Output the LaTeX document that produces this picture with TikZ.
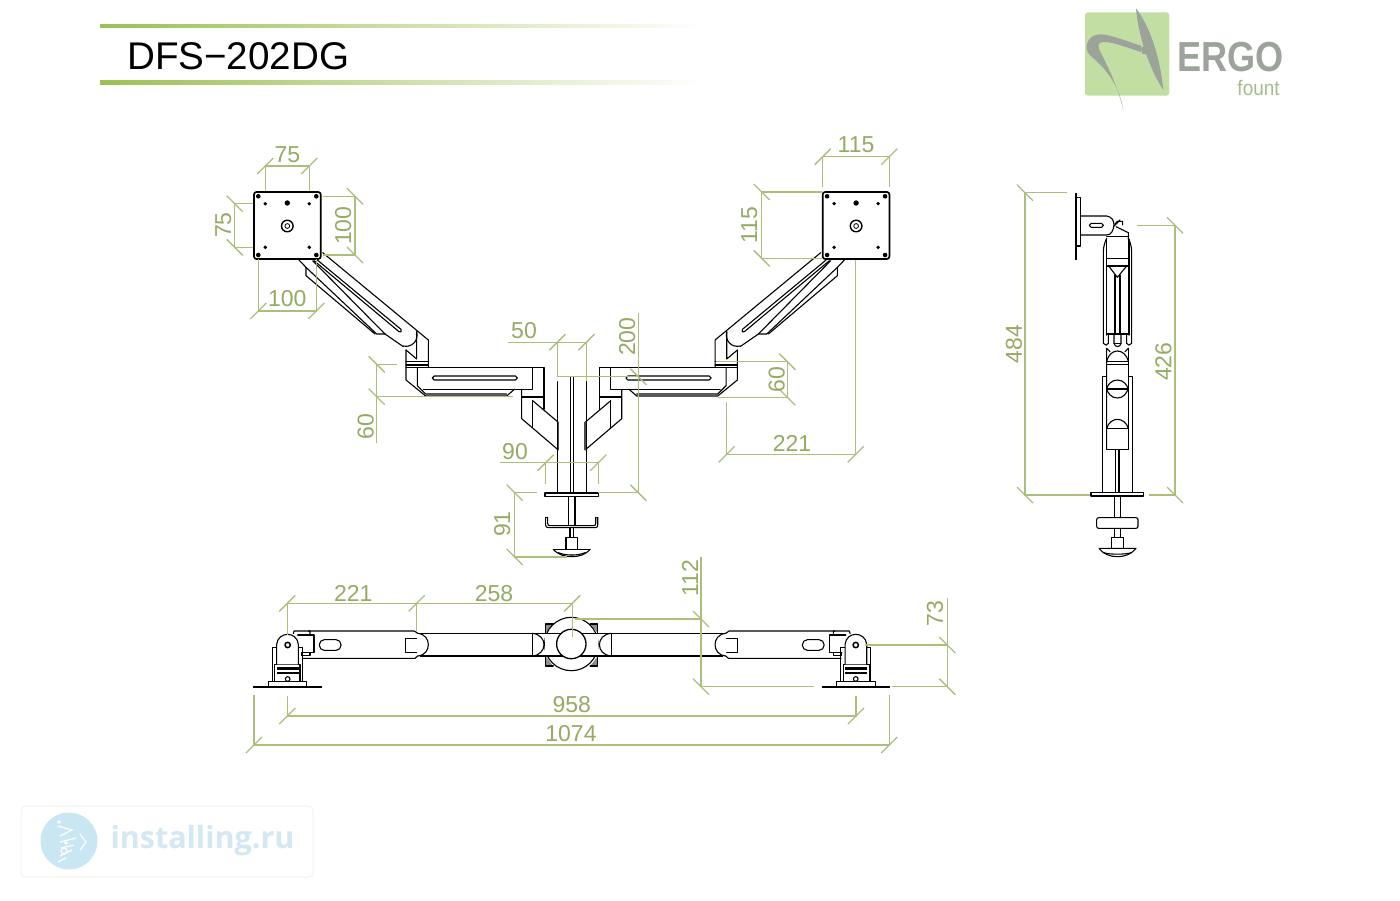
\documentclass[tikz,border=0pt]{standalone}
\usepackage{fontspec}
\setmainfont{Liberation Sans}
\newfontfamily\wmfont{Open Sans}
\definecolor{dimgreen}{HTML}{ABBE7C}
\definecolor{dimtxt}{HTML}{93AB62}
\definecolor{barg}{HTML}{9DBF55}
\definecolor{logog}{HTML}{C3DEA2}
\definecolor{logogrey}{HTML}{9CA39A}
\definecolor{wmblue}{HTML}{D3E8F2}
\definecolor{wmcirc}{HTML}{C9E6F3}
\tikzset{
  dimline/.style={draw=dimgreen,line width=1.3pt},
  dimtext/.style={text=dimtxt,font=\fontsize{23}{23}\selectfont,inner sep=0pt},
  part/.style={draw=black,line width=1.1pt,line join=round,line cap=round},
  heavy/.style={draw=black,line width=1.7pt,line join=round},
  z1/.style={shift={(200,130)},scale=0.33333},
  z2/.style={shift={(480,300)},scale=0.33333},
  z3/.style={shift={(1010,180)},scale=0.33333},
  z5/.style={shift={(240,570)},scale=0.33333},
  z10/.style={shift={(530,610)},scale=0.33333},
  z11/.style={shift={(395,320)},scale=0.33333},
  z12/.style={shift={(250,625)},scale=0.33333},
  z7/.style={shift={(1070,0)},scale=0.33333},
  mirror/.style={shift={(1143.4,0)},xscale=-1},
}
\newcommand\tka[2]{\draw[dimline] (#1-8,#2+8) -- (#1+8,#2-8);}
\newcommand\tkb[2]{\draw[dimline] (#1-8,#2-8) -- (#1+8,#2+8);}
\newcommand\dimlab[4][0]{\node[dimtext,rotate=#1] (#2) at (#3) {#4};}
% one half of the front view
\newcommand\frontarm{%
  \draw[heavy,rounded corners=2.5pt] (254,192) rectangle (320.7,259);
  \foreach \hx/\hy in {258.3/196.3,316.3/196.3,258.3/255,316.3/255}{\fill (\hx,\hy) circle (2.3);}
  \foreach \hx/\hy in {265.3/203.7,309.3/203.7,265.3/247.3,309.3/247.3}{\fill (\hx,\hy) circle (1.9);}
  \fill (287.3,203) circle (2.7);
  \draw[part,line width=1.4pt] (287.3,226) circle (5.8);
  \draw[part,line width=0.8pt] (287.3,226) circle (2.4);
  \begin{scope}[z1]
    \draw[part] (368,368) -- (685,630) -- (685,712);
    \draw[part] (338,392) -- (555,612) -- (610,650);
    \draw[part] (297,390) -- (318,412) -- (530,612) -- (555,612);
    \draw[part] (318,412) -- (318,437) -- (525,612);
    \draw[part] (352,390) -- (603,598) .. controls (607,604) and (602,609) .. (597,605) -- (342,392);
  \end{scope}
  \begin{scope}[z11]
    \draw[part] (33,142) -- (447,142) -- (447,268);
    \draw[part] (33,90) -- (33,180) -- (92,228) -- (335,228) -- (358,208);
    \draw[part] (67,142) -- (67,197) -- (92,222) -- (335,222);
    \draw[part] (85,208) -- (413,208) -- (413,142);
    \draw[part] (380,208) -- (380,296) -- (490,390);
    \draw[heavy] (380,230) -- (447,230);
    \draw[part] (413,242) -- (413,323);
    \draw[part] (413,242) -- (490,307);
    \draw[heavy,line width=2pt,black!70] (490,307) -- (490,390);
    \draw[part,rounded corners=1.9pt] (112,168) rectangle (367,180);
    \draw[part] (33,125) -- (100,125);
    \draw[part] (65,35) -- (65,117) -- (33,90);
    \draw[part] (25,78) .. controls (50,84) and (72,62) .. (65,35);
    \draw[part] (33,135) -- (100,135);
  \end{scope}
  \begin{scope}[z2]
    \draw[part] (232,245) -- (232,578);
  \end{scope}
  \begin{scope}[z2]
    \draw[part] (197,652) -- (197,675) .. controls (197,680) and (199,683) .. (205,683) -- (275,683);
    \draw[part] (203,652) -- (203,670) .. controls (203,675) and (205,677) .. (210,677) -- (275,677);
    \draw[part] (197,652) -- (203,652);
    \draw[part] (265,590) -- (265,677);
    \draw[part] (270,683) -- (270,712);
    \draw[part] (258,748) -- (258,712) -- (275,712);
    \draw[part] (220,748) -- (275,748);
    \draw[part] (220,748) .. controls (235,765) and (255,770) .. (275,770);
    \draw[part] (235,758) .. controls (250,764) and (262,765) .. (275,765);
  \end{scope}
}
% one half of the plan view
\newcommand\planarm{%
  \begin{scope}[z12]
    \draw[heavy] (10,185) -- (215,185);
    \draw[part] (55,185) -- (55,170) -- (170,170) -- (170,185);
    \draw[part] (68,170) -- (68,68) -- (80,68);
    \draw[part] (158,170) -- (158,68) -- (145,68);
    \draw[part] (73,170) -- (73,118) -- (150,118) -- (150,170);
    \fill (80,125) rectangle (146,135);
    \fill (80,140) rectangle (146,148);
    \draw[part] (113,162) circle (7);
    \draw[part,fill=white] (80,118) -- (80,58) .. controls (82,38) and (98,28) .. (113,28) .. controls (128,28) and (143,38) .. (145,58) -- (145,118);
    \draw[part,line width=1.5pt] (113,60) circle (8);
    \draw[part] (130,26) -- (132,18) -- (180,18) -- (180,30);
    \draw[part] (143,30) -- (192,30) -- (192,83) -- (155,83);
    \draw[part] (155,83) -- (155,92) -- (180,92) -- (180,83);
  \end{scope}
  \begin{scope}[z5]
    \draw[part] (205,183) -- (523,183) -- (533,190);
    \draw[part] (187,265) -- (525,265) -- (533,258);
    \draw[part,rounded corners=5pt] (238,209) rectangle (303,241);
    \draw[part] (530,205) -- (497,205) -- (497,248) -- (530,248);
    \draw[part] (533,190) .. controls (555,192) and (565,208) .. (565,224) .. controls (565,240) and (555,256) .. (533,258);
    \draw[heavy,line width=1.3pt] (533,190) -- (880,190);
    \draw[heavy,line width=1.3pt] (540,258) -- (880,258);
  \end{scope}
}
% one half of the plan-view centre
\newcommand\plancentre{%
  \begin{scope}[z10]
    \fill[black!45] (47,42) rectangle (70,70);
    \fill[white] (47,70) -- (70,42) -- (70,70) -- cycle;
    \draw[part] (47,70) -- (47,42) -- (70,42);
    \fill[black!45] (47,138) rectangle (70,168);
    \fill[white] (47,138) -- (70,168) -- (70,138) -- cycle;
    \draw[part] (47,138) -- (47,168) -- (70,168);
    \draw[part] (7,70) -- (7,138);
    \draw[part] (7,70) .. controls (30,72) and (42,88) .. (42,104) .. controls (42,120) and (30,136) .. (7,138);
  \end{scope}
}
\begin{document}
\begin{tikzpicture}[x=1pt,y=-1pt]
\useasboundingbox (0,0) rectangle (1400,900);
\fill[white] (0,0) rectangle (1400,900);
%%% heading
\shade[left color=barg,right color=white] (100,24.4) rectangle (705,27.8);
\shade[left color=barg,right color=white] (100,80.6) rectangle (705,84);
\node[anchor=west,inner sep=0pt,font=\fontsize{38.6}{38}\selectfont] (title) at (127,56) {DFS−202DG};
%%% logo
\fill[logog,rounded corners=3pt] (1085,12.3) rectangle (1169.3,95.7);
\begin{scope}[z7]
  \fill[logogrey] (198,25) .. controls (240,80) and (270,170) .. (280,270) .. controls (240,210) and (205,110) .. (198,25) -- cycle;
  \fill[logogrey] (160,330) .. controls (150,270) and (120,215) .. (62,168) .. controls (42,148) and (48,120) .. (70,108) .. controls (95,95) and (125,108) .. (215,138) -- (212,156) .. controls (150,135) and (105,118) .. (88,130) .. controls (72,142) and (128,200) .. (160,330) -- cycle;
  \fill[logogrey] (212,146) -- (228,132) -- (238,162) -- (218,162) -- cycle;
\end{scope}
\node[inner sep=0pt,text=logogrey,font=\fontsize{42}{42}\selectfont\bfseries] (ergo) at (1230.5,57) {\scalebox{0.86}[1]{ERGO}};
\node[inner sep=0pt,text=logog!85!black,font=\fontsize{21}{21}\selectfont] (fount) at (1258.5,88) {\scalebox{0.9}[1]{fount}};
%%% watermark
\draw[draw=black!5,line width=1pt,rounded corners=4pt] (21,806) rectangle (313,877);
\fill[wmcirc] (69,841) circle (28.5);
\begin{scope}[white,line width=1.2pt]
  \draw (58,826) -- (72,830) -- (60,836) ;
  \draw (60,842) -- (76,838);
  \draw (80,834) -- (86,842) -- (80,850);
  \draw (61,848) -- (74,845) (72,850) -- (60,856) (66,858) -- (58,862);
  \fill (59,822) circle (1.8) (66,843) circle (1.8);
  \draw (64,851) circle (3);
\end{scope}
\node[inner sep=0pt,text=wmblue,font=\wmfont\bfseries\fontsize{30.5}{30}\selectfont] (wm) at (202.5,841) {installing.ru};
%%% front view, arms
\frontarm
\begin{scope}[mirror]\frontarm\end{scope}
\begin{scope}[z2]
  \draw[part] (272,232) -- (272,578);
  \draw[part] (280,232) -- (280,578);
  \draw[part] (232,230) -- (256,230);
  \draw[part,fill=white] (195,579) rectangle (355,590);
  \draw[part] (285,590) -- (285,677);
\end{scope}
%%% side view
\begin{scope}[z3]
  \draw[heavy] (197,40) -- (197,240);
  \draw[part] (197,52) -- (212,52) -- (212,198) -- (197,198);
  \draw[part] (212,108) -- (290,108) .. controls (305,110) and (312,122) .. (312,135) .. controls (310,150) and (305,165) .. (290,165) -- (212,165);
  \draw[part,rounded corners=1.9pt] (238,130) rectangle (280,142);
  \draw[part] (315,132) -- (322,124) -- (338,124) -- (338,135);
  \draw[part] (312,138) -- (330,120) (318,140) -- (355,158) -- (355,180);
  \draw[part] (290,170) -- (355,170);
  \draw[part] (280,490) -- (280,215) .. controls (280,200) and (285,185) .. (290,175);
  \draw[part] (365,490) -- (365,215) .. controls (365,200) and (360,185) .. (355,175);
  \draw[part] (290,178) -- (290,465) (357,178) -- (357,465);
  \draw[part,line width=1.5pt] (290,236) -- (357,236);
  \draw[part] (290,258) -- (357,258);
  \draw[part] (296,258) -- (322,292) -- (350,258);
  \draw[part] (315,285) -- (315,462) (330,285) -- (330,462);
  \draw[part] (290,462) -- (357,462);
  \draw[part] (280,490) .. controls (285,497) and (292,497) .. (295,490) -- (295,465);
  \draw[part] (365,490) .. controls (360,497) and (353,497) .. (350,490) -- (350,465);
  \draw[part] (312,465) -- (312,490) .. controls (314,503) and (331,503) .. (333,490) -- (333,465);
  \draw[part] (312,490) -- (333,490);
  \draw[part] (290,808) -- (290,505) -- (300,515) (355,505) -- (345,515);
  \draw[part] (355,808) -- (355,505);
  \draw[part] (290,808) -- (355,808);
  \draw[part] (290,545) .. controls (295,522) and (310,513) .. (322,513) .. controls (335,513) and (350,522) .. (355,545);
  \draw[part] (290,545) -- (355,545) (290,553) -- (355,553);
  \draw[part] (290,590) -- (277,590) -- (277,938);
  \draw[part] (355,590) -- (367,590) -- (367,938);
  \draw[part] (322,600) .. controls (340,600) and (352,615) .. (354,627) .. controls (350,640) and (340,654) .. (322,654) .. controls (304,654) and (294,640) .. (290,627) .. controls (292,615) and (304,600) .. (322,600) -- cycle;
  \draw[part] (290,627) -- (354,627);
  \draw[part] (290,745) .. controls (295,727) and (310,718) .. (322,718) .. controls (335,718) and (350,727) .. (355,745);
  \draw[part] (290,745) -- (355,745);
  \draw[part] (317,808) -- (317,938) (327,808) -- (327,938);
  \draw[part] (243,938) rectangle (401,948);
  \draw[part] (313,948) -- (313,1013) (332,948) -- (332,1013);
  \draw[part,rounded corners=2pt] (260,1013) rectangle (384,1045);
  \draw[part] (313,1045) -- (313,1072) (332,1045) -- (332,1072);
  \draw[part] (305,1105) -- (305,1072) -- (340,1072) -- (340,1105);
  \draw[part] (267,1105) -- (378,1105) .. controls (365,1122) and (345,1130) .. (322,1130) .. controls (300,1130) and (280,1122) .. (267,1105) -- cycle;
  \draw[part] (280,1118) .. controls (300,1124) and (345,1124) .. (365,1118);
\end{scope}
%%% plan view
\planarm
\begin{scope}[mirror]\planarm\end{scope}
\plancentre
\begin{scope}[mirror]\plancentre\end{scope}
\draw[part] (571.3,644) circle (26.7);
\fill[white] (545,634) rectangle (598,655);
\begin{scope}[z10]
  \draw[heavy,line width=1.3pt] (0,70) -- (247,70);
  \draw[heavy,line width=1.3pt] (0,138) -- (247,138);
\end{scope}
\draw[part,line width=1.3pt,fill=white] (571.3,644) circle (14.7);
%%% dimensions, front view
\draw[dimline] (265.3,191) -- (265.3,166) -- (309.3,166) -- (309.3,191);
\tka{265.3}{166}\tka{309.3}{166}
\dimlab{d75a}{287.3,155}{75}
\draw[dimline] (253,203.7) -- (234.7,203.7) -- (234.7,247.3) -- (253,247.3);
\tkb{234.7}{203.7}\tkb{234.7}{247.3}
\dimlab[90]{d75b}{223.3,225}{75}
\draw[dimline] (323,196.3) -- (355,196.3) -- (355,255) -- (323,255);
\tkb{355}{196.3}\tkb{355}{255}
\dimlab[90]{d100a}{343.3,225.7}{100}
\draw[dimline] (258.3,259) -- (258.3,311) -- (316.3,311) -- (316.3,259);
\tka{258.3}{311}\tka{316.3}{311}
\dimlab{d100b}{287.3,299}{100}
\draw[dimline] (822.7,187) -- (822.7,156.7) -- (889.3,156.7) -- (889.3,187);
\tka{822.7}{156.7}\tka{889.3}{156.7}
\dimlab{d115a}{856,145}{115}
\draw[dimline] (822,192) -- (761.7,192) -- (761.7,258.3) -- (822,258.3);
\tkb{761.7}{192}\tkb{761.7}{258.3}
\dimlab[90]{d115b}{749.3,225}{115}
\draw[dimline] (855.7,260) -- (855.7,454.3) -- (726.7,454.3) -- (726.7,401.7);
\tka{855.7}{454.3}\tka{726.7}{454.3}
\dimlab{d221a}{792,443}{221}
\draw[dimline] (716,361.7) -- (787.3,361.7) -- (787.3,397.3) -- (718,397.3);
\tkb{787.3}{361.7}\tkb{787.3}{397.3}
\dimlab[90]{d60a}{776.7,379.3}{60}
\draw[dimline] (397,364.3) -- (376.7,364.3) -- (376.7,442.7);
\draw[dimline] (376.7,396.7) -- (513,396.7);
\tkb{376.7}{364.3}\tkb{376.7}{396.7}
\dimlab[90]{d60b}{365.7,426.7}{60}
\draw[dimline] (508.3,342.3) -- (586.7,342.3);
\draw[dimline] (557.3,342.3) -- (557.3,376.7);
\draw[dimline] (586.3,342.3) -- (586.3,381);
\tka{557.3}{342.3}\tka{586.3}{342.3}
\dimlab{d50}{524,330.7}{50}
\draw[dimline] (638.3,313.3) -- (638.3,492.7) -- (598,492.7);
\draw[dimline] (557.3,376.7) -- (638.3,376.7);
\tkb{638.3}{376.7}\tkb{638.3}{492.7}
\dimlab[90]{d200}{627.3,336.7}{200}
\draw[dimline] (545.7,484.3) -- (545.7,462.7);
\draw[dimline] (598.3,484.3) -- (598.3,462.7);
\draw[dimline] (500,462.7) -- (598.3,462.7);
\tka{545.7}{462.7}\tka{598.3}{462.7}
\dimlab{d90}{515,451.7}{90}
\draw[dimline] (536.7,492.7) -- (514.7,492.7) -- (514.7,557) -- (566.7,557);
\tkb{514.7}{492.7}\tkb{514.7}{557}
\dimlab[90]{d91}{502.3,524}{91}
%%% dimensions, side view
\draw[dimline] (1067.3,192.7) -- (1025,192.7) -- (1025,495) -- (1090,495);
\tkb{1025}{192.7}\tkb{1025}{495}
\dimlab[90]{d484}{1014,344}{484}
\draw[dimline] (1136.7,225.3) -- (1175,225.3) -- (1175,495) -- (1149,495);
\tkb{1175}{225.3}\tkb{1175}{495}
\dimlab[90]{d426}{1163.5,361.7}{426}
%%% dimensions, plan view
\draw[dimline] (287.3,635) -- (287.3,603.3) -- (572.3,603.3) -- (572.3,636.7);
\draw[dimline] (416.7,603.3) -- (416.7,631.7);
\tka{287.3}{603.3}\tka{416.7}{603.3}\tka{572.3}{603.3}
\dimlab{d221b}{353.3,593.3}{221}
\dimlab{d258}{494,593.3}{258}
\draw[dimline] (575,619) -- (701,619);
\draw[dimline] (701,556.7) -- (701,686.7) -- (814.3,686.7);
\tkb{701}{619}\tkb{701}{686.7}
\dimlab[90]{d112}{690,578}{112}
\draw[dimline] (865,645) -- (947.3,645);
\draw[dimline] (947.3,598.3) -- (947.3,686.7) -- (892.3,686.7);
\tkb{947.3}{645}\tkb{947.3}{686.7}
\dimlab[90]{d73}{935,613.3}{73}
\draw[dimline] (287.3,695.7) -- (287.3,716) -- (856,716) -- (856,695.7);
\tka{287.3}{716}\tka{856}{716}
\dimlab{d958}{571.7,705}{958}
\draw[dimline] (254,695) -- (254,745) -- (889.3,745) -- (889.3,695);
\tka{254}{745}\tka{889.3}{745}
\dimlab{d1074}{571,734}{1074}
\end{tikzpicture}
\end{document}
